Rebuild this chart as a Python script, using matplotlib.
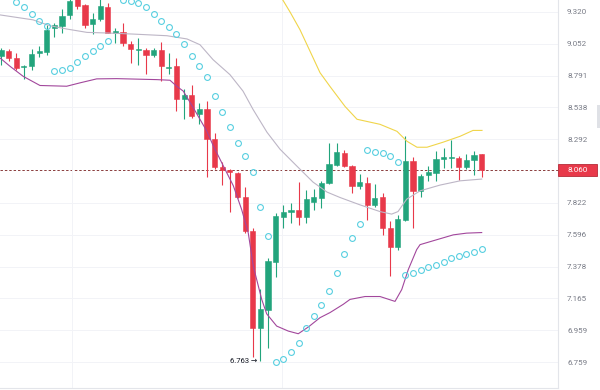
import numpy as np
import matplotlib
matplotlib.use("Agg")
import matplotlib.pyplot as plt
from matplotlib.patches import Rectangle

# candle data
opens = [8.948, 8.995, 8.932, 8.859, 8.872, 8.979, 8.984, 9.183, 9.203, 9.295,
         9.439, 9.380, 9.219, 9.261, 9.365, 9.142, 9.150, 9.052, 8.997, 9.003,
         8.960, 8.997, 8.854, 8.867, 8.607, 8.633, 8.484, 8.523, 8.292, 8.085,
         8.062, 8.038, 7.861, 7.626, 6.976, 7.088, 7.410, 7.725, 7.760, 7.773,
         7.725, 7.832, 7.856, 7.963, 8.100, 8.187, 8.093, 7.946, 7.965, 7.808,
         7.861, 7.643, 7.512, 7.702, 8.130, 7.909, 8.024, 8.038, 8.140, 8.150,
         8.148, 8.081, 8.138, 8.180]
highs = [9.017, 9.011, 8.976, 8.881, 9.009, 9.030, 9.211, 9.230, 9.343, 9.448,
         9.460, 9.388, 9.309, 9.430, 9.394, 9.183, 9.225, 9.071, 9.100, 9.017,
         9.017, 9.066, 8.976, 8.935, 8.686, 8.712, 8.575, 8.588, 8.338, 8.123,
         8.068, 8.044, 7.934, 7.646, 7.225, 7.439, 7.749, 7.808, 7.820, 7.975,
         7.917, 7.922, 7.982, 8.262, 8.262, 8.212, 8.100, 8.031, 8.007, 7.958,
         7.893, 7.690, 7.737, 8.317, 8.155, 8.031, 8.093, 8.200, 8.230, 8.287,
         8.163, 8.180, 8.200, 8.180]
lows = [8.881, 8.913, 8.834, 8.765, 8.834, 8.943, 8.962, 9.108, 9.142, 9.261,
        9.343, 9.183, 9.136, 9.239, 9.140, 9.058, 9.030, 8.895, 8.881, 8.807,
        8.943, 8.746, 8.807, 8.510, 8.446, 8.459, 8.407, 8.007, 8.068, 7.951,
        7.754, 7.854, 7.608, 6.793, 6.763, 6.847, 7.309, 7.643, 7.679, 7.667,
        7.679, 7.773, 7.785, 7.958, 8.093, 8.081, 7.893, 7.922, 7.702, 7.796,
        7.596, 7.313, 7.494, 7.690, 7.643, 7.868, 7.982, 7.982, 8.073, 8.073,
        7.990, 8.068, 8.024, 8.007]
closes = [8.997, 8.935, 8.854, 8.872, 8.968, 8.995, 9.169, 9.211, 9.286, 9.414,
          9.371, 9.211, 9.261, 9.374, 9.142, 9.155, 9.058, 9.009, 9.011, 8.962,
          8.997, 8.867, 8.864, 8.607, 8.638, 8.469, 8.523, 8.292, 8.081, 8.060,
          8.044, 7.861, 7.626, 6.976, 7.094, 7.414, 7.730, 7.756, 7.773, 7.725,
          7.849, 7.861, 7.963, 8.105, 8.193, 8.093, 7.946, 7.975, 7.808, 7.856,
          7.643, 7.512, 7.707, 8.130, 7.909, 8.019, 8.044, 8.143, 8.158, 8.155,
          8.081, 8.138, 8.172, 8.060]

# parabolic SAR dots
nan = np.nan
sar = [nan, nan, 9.408, 9.365, 9.303, 9.247, 9.203, 8.826, 8.834, 8.856,
       8.899, 8.948, 8.995, 9.036, 9.071, nan, 9.422, 9.414, 9.394, 9.360,
       9.301, 9.247, 9.190, 9.133, 9.050, 8.950, 8.867, 8.781, 8.627, 8.502,
       8.390, 8.267, 8.163, 8.044, 7.796, 7.589, 6.757, 6.780, 6.822, 6.880,
       6.972, 7.051, 7.122, 7.212, 7.335, 7.465, 7.574, 7.669, 8.210, 8.197,
       8.187, 8.167, 8.118, 7.318, 7.336, 7.353, 7.376, 7.392, 7.407, 7.437,
       7.448, 7.466, 7.480, 7.499]

# band lines (bar index, price)
mid_x = [-0.13, 4.19, 6.42, 8.65, 11.27, 13.89, 17.30, 21.76, 24.38, 26.08,
         27.79, 30.01, 31.72, 33.03, 34.86, 36.57, 38.79, 40.89, 42.73, 44.43,
         47.05, 49.67, 51.2, 52.03, 53.17, 54.92, 57.54, 60.16, 63.0]
mid_y = [9.295, 9.253, 9.203, 9.175, 9.147, 9.142, 9.133, 9.119, 9.092, 9.044,
         8.921, 8.799, 8.667, 8.523, 8.346, 8.217, 8.090, 7.973, 7.900, 7.861,
         7.808, 7.760, 7.742, 7.760, 7.849, 7.909, 7.951, 7.982, 7.995]
low_x = [-0.13, 1.18, 2.92, 5.11, 8.61, 10.35, 12.54, 15.16, 20.41, 22.15,
         23.03, 23.89, 25.2, 26.96, 27.83, 29.13, 30.45, 31.55, 32.41, 33.07,
         34.17, 34.82, 36.13, 37.65, 38.96, 40.28, 41.81, 43.12, 44.86, 45.74,
         47.71, 49.67, 51.64, 52.52, 53.38, 54.48, 54.92, 57.1, 59.28, 61.03, 63.0]
low_y = [8.935, 8.867, 8.785, 8.712, 8.706, 8.733, 8.765, 8.767, 8.759, 8.754,
         8.706, 8.667, 8.536, 8.356, 8.242, 8.093, 7.946, 7.773, 7.608, 7.380,
         7.159, 7.065, 6.986, 6.954, 6.937, 6.980, 7.040, 7.073, 7.127, 7.159,
         7.178, 7.178, 7.146, 7.224, 7.358, 7.494, 7.528, 7.562, 7.596, 7.608, 7.612]
up_x = [36.17, 37.88, 39.19, 40.89, 41.81, 43.12, 45.09, 46.66, 49.67, 51.9,
        53.21, 54.52, 55.83, 57.93, 60.16, 61.86, 63.04]
up_y = [9.507, 9.320, 9.169, 8.938, 8.815, 8.704, 8.546, 8.446, 8.407, 8.353,
        8.277, 8.232, 8.232, 8.270, 8.315, 8.360, 8.360]

ticks = [9.320, 9.052, 8.791, 8.538, 8.292, 7.822, 7.596, 7.378, 7.165, 6.959, 6.759]
tick_labels = ["9.320", "9.052", "8.791", "8.538", "8.292", "7.822", "7.596",
               "7.378", "7.165", "6.959", "6.759"]

up_col = '#22a47c'
dn_col = '#e8394a'
fonts = ['Roboto', 'DejaVu Sans']

fig = plt.figure(figsize=(6, 3.9), dpi=100)
fig.patch.set_facecolor('white')
ax = fig.add_axes([0, 2/390, 558/600, 388/390])
ax.set_yscale('log')

idx = np.arange(len(opens))
o = np.array(opens); c = np.array(closes)
h = np.array(highs); l = np.array(lows)
cols = [up_col if cc >= oo else dn_col for oo, cc in zip(o, c)]

ax.vlines(idx, l, h, colors=cols, lw=0.8, zorder=2)
bot = np.minimum(o, c)
hgt = np.maximum(np.abs(c - o), 0.004)
ax.bar(idx, hgt, bottom=bot, width=0.68, color=cols, edgecolor=cols, lw=0.4, zorder=3)

ax.plot(mid_x, mid_y, color='#bdb6c6', lw=0.8, zorder=4)
ax.plot(low_x, low_y, color='#a2479c', lw=0.8, zorder=4)
ax.plot(up_x, up_y, color='#f0d54a', lw=0.8, zorder=4)
ax.plot(idx, sar, ls='none', marker='o', ms=4.2, mfc='none', mec='#57cfe0', mew=0.8, zorder=5)

last = closes[-1]
ax.axhline(last, color='#8a3c3c', lw=0.7, ls=(0, (2.5, 2)), zorder=1)

# low annotation
lo_i = int(np.argmin(l))
ax.annotate("%.3f \u2192" % l[lo_i], xy=(lo_i, l[lo_i]), xytext=(-2, 0),
            textcoords='offset points', ha='right', va='center',
            fontsize=5.5, color='#131722', family=fonts)

ax.set_xlim(-0.13, 73.0)
ax.set_ylim(6.600, 9.423)
ax.yaxis.tick_right()
ax.set_yticks(ticks)
ax.set_yticklabels(tick_labels)
ax.yaxis.set_minor_locator(matplotlib.ticker.NullLocator())
ax.tick_params(axis='y', length=0, pad=6.5, labelsize=5.8, labelcolor='#787b86')
for t in ax.get_yticklabels():
    t.set_family(fonts)
ax.set_xticks([9.3, 36.8])
ax.tick_params(axis='x', length=0, labelbottom=False)
ax.grid(True, color='#f2f3f7', lw=0.7, zorder=0)
for s in ['top', 'left']:
    ax.spines[s].set_visible(False)
ax.spines['right'].set_color('#e3e5ea')
ax.spines['bottom'].set_color('#e3e5ea')
ax.spines['right'].set_linewidth(0.8)
ax.spines['bottom'].set_linewidth(0.8)

# current price tag
y_px = ax.transData.transform((0, last))[1]
fh = fig.bbox.height
fig.patches.append(Rectangle((558/600, (y_px - 6)/fh), 39/600, 12/fh,
                             transform=fig.transFigure, fc=dn_col, ec='#b52b38', lw=0.6))
fig.text(577.5/600, y_px/fh, "%.3f" % last, color='white', fontsize=5.8,
         ha='center', va='center', family=fonts)
fig.patches.append(Rectangle((597/600, (390-128)/390), 3/600, 23/390,
                             transform=fig.transFigure, fc='#dfe1e6', ec='none'))

fig.savefig('out.png', dpi=100)
